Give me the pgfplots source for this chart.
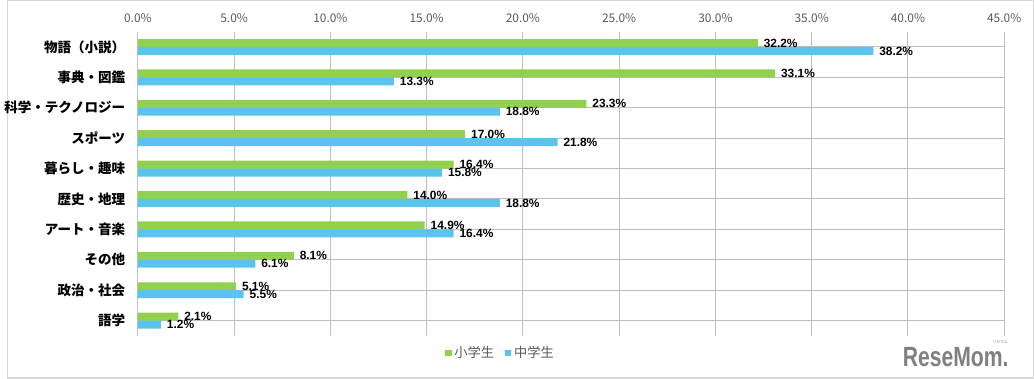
\documentclass[border=0pt]{standalone}
\usepackage{pgfplots}
\pgfplotsset{compat=1.18}
\usepackage{fontspec}
\setmainfont{Noto Sans CJK JP}
\newfontfamily\lab{Liberation Sans}
\definecolor{gr}{RGB}{146,208,80}
\definecolor{bl}{RGB}{91,196,238}
\definecolor{tk}{RGB}{89,89,89}
\definecolor{grid}{RGB}{217,217,217}
\begin{document}
\begin{tikzpicture}[x=1pt,y=1pt]
\draw[grid, line width=1pt] (0.5,0.5) rectangle (775,285.25);
\begin{axis}[
  at={(99pt,32.25pt)}, anchor=south west,
  scale only axis, width=654pt, height=229.5pt,
  xmin=0, xmax=45, ymin=-0.5, ymax=9.5,
  xtick={0,5,...,45},
  xticklabel pos=top,
  xticklabel={\pgfmathprintnumber[fixed,zerofill,precision=1]{\tick}\%},
  /pgf/number format/assume math mode=true,
  xticklabel style={font=\fontsize{9}{10}\selectfont, text=tk, yshift=3pt},
  ytick={0,...,9},
  yticklabels={語学,政治・社会,その他,アート・音楽,歴史・地理,暮らし・趣味,スポーツ,科学・テクノロジー,事典・図鑑,物語（小説）},
  yticklabel style={font=\fontsize{10.2}{12}\selectfont\bfseries, text=black, xshift=-6pt},
  major tick length=0pt,
  axis line style={draw=none},
  xmajorgrids, grid style={grid, line width=0.75pt},
  xbar, bar width=6pt,
  nodes near coords={\pgfmathprintnumber[fixed,zerofill,precision=1]{\pgfplotspointmeta}\%},
  point meta=x,
  every node near coord/.append style={font=\lab\fontsize{9}{10}\selectfont\bfseries, text=black, anchor=west, xshift=1pt},
  legend style={at={(0.419,-0.056)}, anchor=center, draw=none, fill=none, font=\fontsize{10}{11}\selectfont, text=tk, legend columns=2, /tikz/every even column/.append style={column sep=6pt}},
  legend image code/.code={\fill[#1] (0pt,-2.5pt) rectangle (5pt,2.5pt);},
  clip=false,
]
\addplot[fill=gr, draw=none, bar shift=3pt] coordinates {
(2.1,0) (5.1,1) (8.1,2) (14.9,3) (14.0,4) (16.4,5) (17.0,6) (23.3,7) (33.1,8) (32.2,9)};
\addplot[fill=bl, draw=none, bar shift=-3pt] coordinates {
(1.2,0) (5.5,1) (6.1,2) (16.4,3) (18.8,4) (15.8,5) (21.8,6) (18.8,7) (13.3,8) (38.2,9)};
\legend{小学生,中学生}
\end{axis}
\node[font=\lab\bfseries\fontsize{21}{22}\selectfont, text=gray, xscale=0.76, anchor=east] at (759pt,16.5pt) {ReseMom.};
\node[font=\fontsize{3}{3}\selectfont, text=gray] at (750pt,27.5pt) {リセマム};
\end{tikzpicture}
\end{document}
